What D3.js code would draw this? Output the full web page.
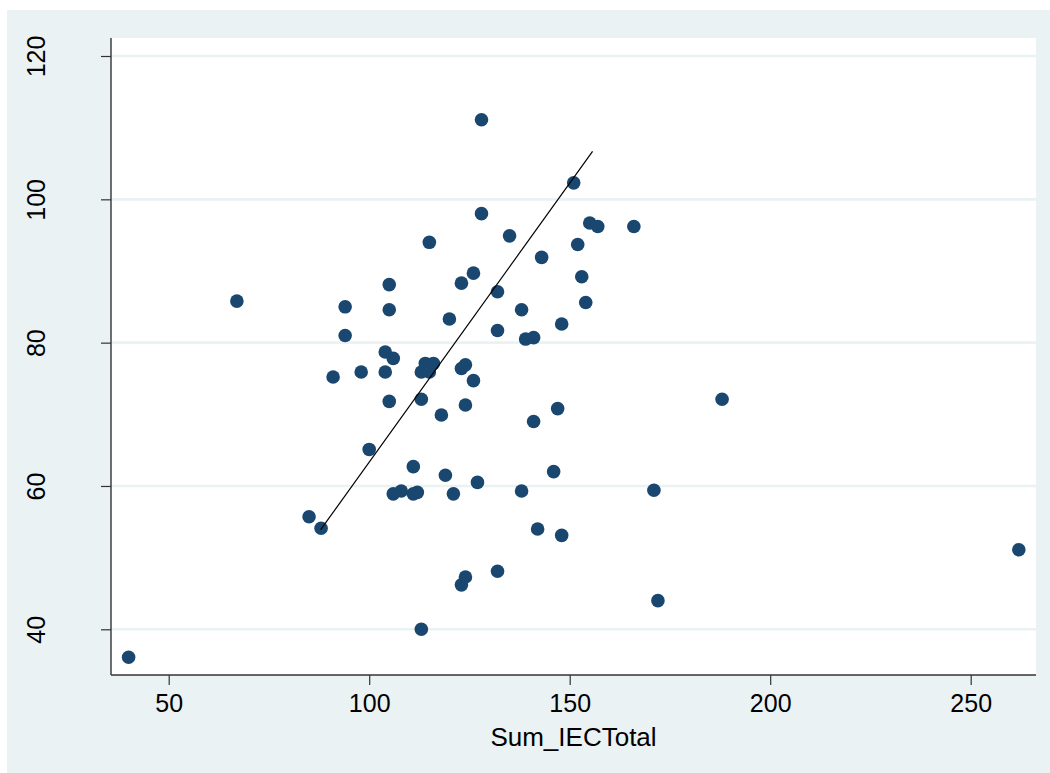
<!DOCTYPE html>
<html>
<head>
<meta charset="utf-8">
<script src="https://d3js.org/d3.v7.min.js"></script>
<style>
body { margin: 0; background: #fff; }
text { font-family: "Liberation Sans", Arial, sans-serif; fill: #000; }
</style>
</head>
<body>
<svg id="chart" width="1050" height="773"></svg>
<script>

var sumIEC = [40, 67, 85, 88, 91, 94, 94, 98, 100, 104, 104, 105, 105, 105, 106, 106, 108, 111, 111, 112,
	113, 113, 113, 114, 115, 116, 115, 118, 119, 120, 121, 123, 123, 123, 124, 124, 124, 126, 126, 127,
	128, 128, 132, 132, 132, 135, 138, 138, 139, 141, 141, 142, 143, 146, 147, 148, 148, 151, 152, 153,
	154, 155, 157, 166, 171, 172, 188, 262];

var yValues = [36.1, 85.8, 55.7, 54.1, 75.2, 81.0, 85.0, 75.9, 65.1, 78.7, 75.9, 88.1, 84.6, 71.8, 77.8, 58.9, 59.3, 62.7, 58.9, 59.1,
	40.0, 72.1, 75.9, 77.1, 75.9, 77.1, 94.0, 69.9, 61.5, 83.3, 58.9, 46.2, 88.3, 76.4, 76.9, 47.3, 71.3, 89.7, 74.7, 60.5,
	111.1, 98.0, 87.1, 81.7, 48.1, 94.9, 84.6, 59.3, 80.5, 80.7, 69.0, 54.0, 91.9, 62.0, 70.8, 82.6, 53.1, 102.3, 93.7, 89.2,
	85.6, 96.7, 96.2, 96.2, 59.4, 44.0, 72.1, 51.1];

// fitted line end points
var fitX = [87.9, 155.7];
var fitY = [53.9, 106.7];

var xTicks = [50, 100, 150, 200, 250];
var yTicks = [40, 60, 80, 100, 120];
var xTitle = "Sum_IECTotal";

var svg = d3.select("#chart");

var plotLeft = 111, plotRight = 1036, plotTop = 38, plotBottom = 675;

var x = d3.scaleLinear().domain([50, 250]).range([168.7, 970.7]);
var y = d3.scaleLinear().domain([40, 120]).range([629.3, 56]);

// outer background
svg.append("rect")
	.attr("x", 7).attr("y", 10)
	.attr("width", 1043).attr("height", 763)
	.attr("fill", "#eaf2f3");

// plot region
svg.append("rect")
	.attr("x", plotLeft).attr("y", plotTop)
	.attr("width", plotRight - plotLeft).attr("height", plotBottom - plotTop)
	.attr("fill", "#fff");

// grid
svg.selectAll(".grid")
	.data(yTicks)
	.enter()
	.append("line")
	.attr("class", "grid")
	.attr("x1", plotLeft).attr("x2", plotRight)
	.attr("y1", function(d) { return y(d); })
	.attr("y2", function(d) { return y(d); })
	.attr("stroke", "#eaf2f3")
	.attr("stroke-width", 2.6);

// points
var pts = sumIEC.map(function(v, i) { return [v, yValues[i]]; });

svg.selectAll(".dot")
	.data(pts)
	.enter()
	.append("circle")
	.attr("class", "dot")
	.attr("cx", function(d) { return x(d[0]); })
	.attr("cy", function(d) { return y(d[1]); })
	.attr("r", 6.8)
	.attr("fill", "#1a476f");

// fitted line
svg.append("line")
	.attr("x1", x(fitX[0])).attr("y1", y(fitY[0]))
	.attr("x2", x(fitX[1])).attr("y2", y(fitY[1]))
	.attr("stroke", "#000")
	.attr("stroke-width", 1.2);

// axes
var xAxis = svg.append("g")
	.attr("transform", "translate(0," + plotBottom + ")")
	.call(d3.axisBottom(x).tickValues(xTicks).tickSize(10).tickPadding(9).tickFormat(d3.format("d")));
xAxis.select(".domain").remove();
xAxis.append("line")
	.attr("x1", plotLeft).attr("x2", plotRight)
	.attr("stroke", "#333").attr("stroke-width", 1.4);
xAxis.selectAll(".tick line").attr("stroke", "#333").attr("stroke-width", 1.2);
xAxis.selectAll(".tick text")
	.attr("font-size", 25)
	.attr("font-family", "Liberation Sans, Arial, sans-serif")
	.attr("fill", "#000");

var yAxis = svg.append("g")
	.attr("transform", "translate(" + plotLeft + ",0)")
	.call(d3.axisLeft(y).tickValues(yTicks).tickSize(10).tickFormat(d3.format("d")));
yAxis.select(".domain").remove();
yAxis.append("line")
	.attr("y1", plotTop).attr("y2", plotBottom)
	.attr("stroke", "#333").attr("stroke-width", 1.4);
yAxis.selectAll(".tick line").attr("stroke", "#333").attr("stroke-width", 1.2);
yAxis.selectAll(".tick text")
	.attr("x", null).attr("dy", null)
	.attr("font-size", 25)
	.attr("font-family", "Liberation Sans, Arial, sans-serif")
	.attr("fill", "#000")
	.attr("text-anchor", "middle")
	.attr("transform", "translate(" + (45 - plotLeft) + ",0) rotate(-90)");

// axis title
svg.append("text")
	.attr("x", (plotLeft + plotRight) / 2)
	.attr("y", 746)
	.attr("text-anchor", "middle")
	.attr("font-size", 26)
	.text(xTitle);

</script>
</body>
</html>
